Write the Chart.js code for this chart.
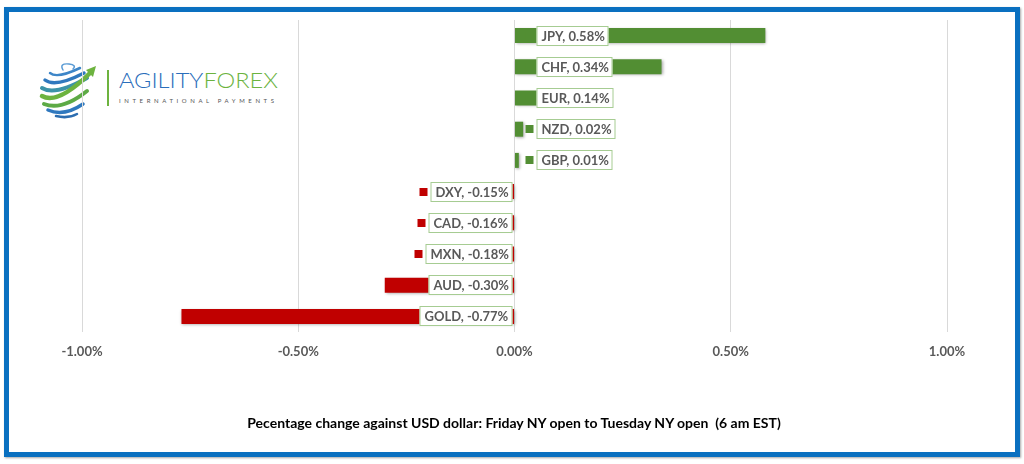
<!DOCTYPE html>
<html>
<head>
<meta charset="utf-8">
<title>Currency moves vs USD</title>
<script src="https://cdn.jsdelivr.net/npm/chart.js@4.4.0/dist/chart.umd.min.js"></script>
<style>
  body { margin: 0; width: 1024px; height: 464px; background: #fff; position: relative; overflow: hidden; font-family: Lato, 'Open Sans', sans-serif; }
  .frame { position: absolute; left: 4px; top: 7px; width: 1016px; height: 450px; box-sizing: border-box; border: 5px solid #0A70C0; box-shadow: 1px 1px 2px rgba(0,0,0,0.35); }
  #chart { position: absolute; left: 0; top: 0; }
  .logo { position: absolute; left: 0; top: 0; }
  .caption { position: absolute; left: 0; top: 414px; width: 1028px; text-align: center; font: bold 14px Lato, sans-serif; color: #000; white-space: pre; }
</style>
</head>
<body>
<div class="frame"></div>

<svg class="logo" width="300" height="130" xmlns="http://www.w3.org/2000/svg">
  <!-- globe swirl -->
  <g fill="none" stroke-linecap="round">
    <path d="M63 70 Q59 63 69 64 Q77 65 73 69" stroke="#5A9BD5" stroke-width="1.5"/>
    <path d="M50 73 Q57 79 80 68" stroke="#3E86C8" stroke-width="2.5"/>
    <path d="M45 80 Q55 88 84 73" stroke="#2F78BE" stroke-width="3.5"/>
    <path d="M42 88 Q55 96 87 78" stroke="#3C93A8" stroke-width="4"/>
    <path d="M42 96 Q58 105 90 73" stroke="#6DB33F" stroke-width="4.5"/>
    <path d="M44 104 Q62 111 87 91" stroke="#5DAA45" stroke-width="4"/>
    <path d="M48 110 Q64 117 83 104" stroke="#2F78BE" stroke-width="3.5"/>
    <path d="M56 116 Q68 119 77 114" stroke="#2C6DB0" stroke-width="2.5"/>
  </g>
  <path d="M86 70 L96 66 L93 77 Z" fill="#6DB33F"/>
  <rect x="107" y="70" width="2" height="36" fill="#6DB33F"/>
  <text x="119" y="88" font-family="Lato, sans-serif" font-weight="300" font-size="21" textLength="159" lengthAdjust="spacingAndGlyphs"><tspan fill="#2A6EBB">AGILITY</tspan><tspan fill="#6CB33F">FOREX</tspan></text>
  <text x="119" y="103" font-family="Lato, sans-serif" font-size="6" fill="#555" textLength="155" lengthAdjust="spacing">INTERNATIONAL PAYMENTS</text>
</svg>

<canvas id="chart" width="1024" height="464"></canvas>
<div class="caption">Pecentage change against USD dollar: Friday NY open to Tuesday NY open  (6 am EST)</div>

<script>
document.addEventListener('DOMContentLoaded', () => {
  // percentage change vs USD, top row first
  const currencies = ['JPY', 'CHF', 'EUR', 'NZD', 'GBP', 'DXY', 'CAD', 'MXN', 'AUD', 'GOLD'];
  const changes = [0.58, 0.34, 0.14, 0.02, 0.01, -0.15, -0.16, -0.18, -0.30, -0.77];
  const xTicks = [-1.0, -0.5, 0.0, 0.5, 1.0];

  const GREEN = '#528E33';
  const RED = '#C00000';
  const barColors = changes.map(v => v >= 0 ? GREEN : RED);

  // soft drop shadow under the bars
  const barShadow = {
    id: 'barShadow',
    beforeDatasetsDraw(chart) {
      const ctx = chart.ctx;
      ctx.save();
      ctx.shadowColor = 'rgba(0,0,0,0.35)';
      ctx.shadowBlur = 3;
      ctx.shadowOffsetX = 1;
      ctx.shadowOffsetY = 1;
    },
    afterDatasetsDraw(chart) {
      chart.ctx.restore();
    }
  };

  // excel style boxed labels with legend key
  const boxLabels = {
    id: 'boxLabels',
    afterDatasetsDraw(chart) {
      const ctx = chart.ctx;
      const meta = chart.getDatasetMeta(0);
      const zero = chart.scales.x.getPixelForValue(0);
      ctx.save();
      ctx.font = 'bold 13px Lato, sans-serif';
      ctx.textBaseline = 'middle';
      meta.data.forEach((bar, i) => {
        const v = changes[i];
        const text = currencies[i] + ', ' + v.toFixed(2) + '%';
        const w = Math.round(ctx.measureText(text).width) + 9;
        const h = 20;
        const y = Math.round(bar.y);
        const boxX = v >= 0 ? zero + 22 : zero - 2 - w;
        const sqX = boxX - 11;

        ctx.fillStyle = barColors[i];
        ctx.fillRect(sqX, y - 4, 8, 8);

        ctx.fillStyle = '#fff';
        ctx.fillRect(boxX, y - h / 2, w, h);
        ctx.strokeStyle = '#A6CC92';
        ctx.lineWidth = 1;
        ctx.strokeRect(boxX + 0.5, y - h / 2 + 0.5, w - 1, h - 1);

        ctx.fillStyle = '#595959';
        ctx.fillText(text, boxX + 5, y + 1);
      });
      ctx.restore();
    }
  };

  new Chart(document.getElementById('chart').getContext('2d'), {
    type: 'bar',
    data: {
      labels: currencies,
      datasets: [{
        data: changes,
        backgroundColor: barColors,
        borderWidth: 0,
        categoryPercentage: 1,
        barPercentage: 0.48
      }]
    },
    options: {
      indexAxis: 'y',
      responsive: false,
      animation: false,
      layout: { padding: { left: 82, right: 77, top: 20, bottom: 102 } },
      plugins: {
        legend: { display: false },
        tooltip: { enabled: false },
        title: { display: false }
      },
      scales: {
        x: {
          min: xTicks[0],
          max: xTicks[xTicks.length - 1],
          afterBuildTicks: scale => { scale.ticks = xTicks.map(v => ({ value: v })); },
          afterFit: scale => { scale.height = 30; },
          grid: { color: '#D9D9D9', lineWidth: 1, drawTicks: false },
          border: { display: false },
          ticks: {
            padding: 12,
            color: '#595959',
            font: { family: 'Lato', size: 13, weight: 'bold' },
            callback: v => v.toFixed(2) + '%'
          }
        },
        y: {
          display: false
        }
      }
    },
    plugins: [barShadow, boxLabels]
  });
});
</script>
</body>
</html>
